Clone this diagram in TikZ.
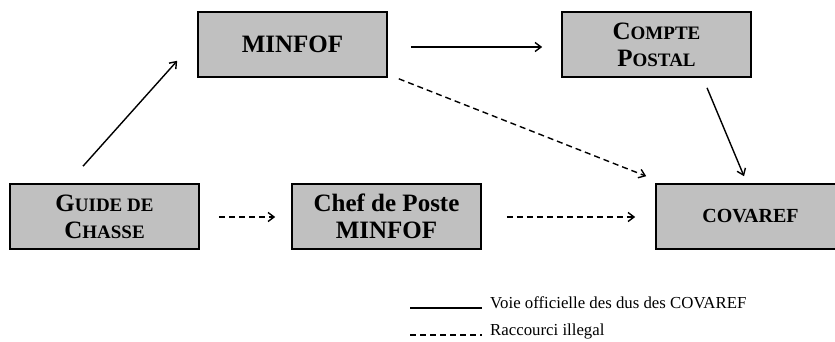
\documentclass[tikz,border=0pt]{standalone}
\usepackage{fontspec}
\setmainfont{Liberation Serif}
\usetikzlibrary{arrows.meta,shadows}
\definecolor{boxgray}{RGB}{192,192,192}
\newcommand\fsc[2]{#1{\fontsize{19}{27}\selectfont #2}}
\begin{document}
\begin{tikzpicture}[x=1pt,y=-1pt,
  boxnode/.style={draw=black,line width=1.6pt,fill=boxgray,minimum width=189pt,minimum height=65pt,
    inner sep=0pt,align=center,font=\fontsize{25}{27}\selectfont\bfseries,
    drop shadow={shadow xshift=1.2pt,shadow yshift=-1.2pt,fill=black!30}},
  solidarrow/.style={line width=1.4pt,-{Straight Barb[length=6pt,width=9pt,line width=1.4pt]}},
  dasharrow/.style={line width=1.4pt,dash pattern=on 6pt off 4pt,-{Straight Barb[length=6pt,width=9pt,line width=1.4pt]}},
  legtext/.style={anchor=base west,inner sep=0pt,font=\fontsize{16.8}{18}\selectfont}
]
\useasboundingbox (0,0) rectangle (835,341);
\node[boxnode] (minfof) at (292.5,44.5) {MINFOF};
\node[boxnode] (compte) at (656.5,44.5) {\fsc{C}{OMPTE}\\\fsc{P}{OSTAL}};
\node[boxnode] (guide) at (104.5,216.5) {\fsc{G}{UIDE DE}\\\fsc{C}{HASSE}};
\node[boxnode] (chef) at (386.5,216.5) {Chef de Poste\\MINFOF};
\node[boxnode] (covaref) at (750.5,216.5) {{\fontsize{20}{27}\selectfont COVAREF}};

\draw[solidarrow] ([shift={(-21.5,-17)}]guide.north) -- ([shift={(-20,-17)}]minfof.south west);
\draw[solidarrow] ([shift={(23,2.5)}]minfof.east) -- ([shift={(-19,2.5)}]compte.west);
\draw[solidarrow] ([shift={(50.5,10)}]compte.south) -- ([shift={(-6.5,-7)}]covaref.north);
\draw[dasharrow] ([shift={(11,1)}]minfof.south east) -- ([shift={(-9,-7)}]covaref.north west);
\draw[dasharrow] ([shift={(19,0.5)}]guide.east) -- ([shift={(-16,0.5)}]chef.west);
\draw[dasharrow] ([shift={(25,0.5)}]chef.east) -- ([shift={(-20,0.5)}]covaref.west);

\coordinate (l1a) at (410,308);
\coordinate (l1b) at (482,308);
\coordinate (l2a) at (410,335);
\coordinate (l2b) at (482,335);
\draw[line width=1.4pt] (l1a) -- (l1b);
\draw[line width=1.4pt,dash pattern=on 6pt off 4pt] (l2a) -- (l2b);
\node[legtext] (leg1) at (490,308) {Voie officielle des dus des COVAREF};
\node[legtext] (leg2) at (490,335) {Raccourci illegal};
\end{tikzpicture}
\end{document}
